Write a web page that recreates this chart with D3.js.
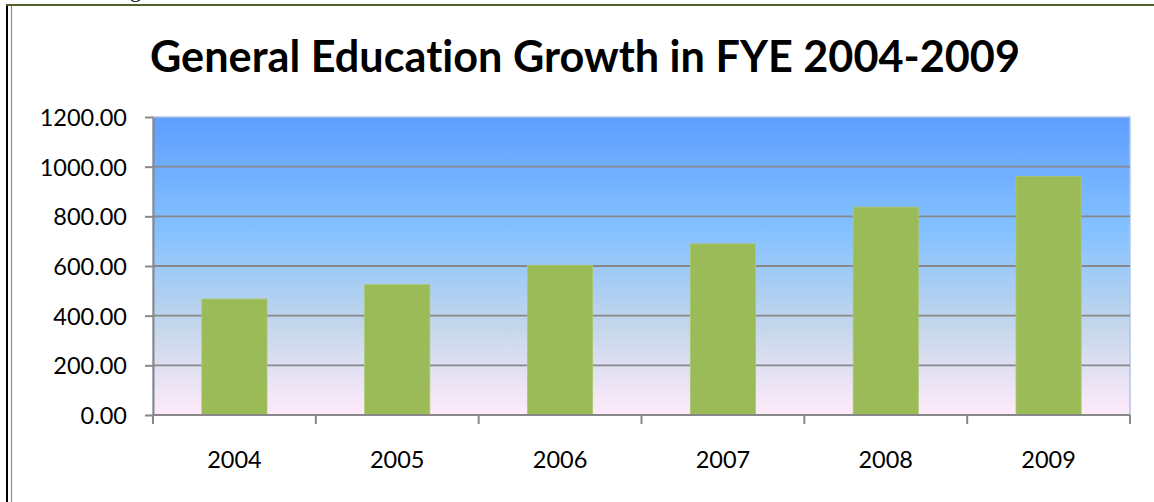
<!DOCTYPE html>
<html>
<head>
<meta charset="utf-8">
<script src="https://cdn.jsdelivr.net/npm/d3@7"></script>
<style>
  html, body { margin: 0; padding: 0; background: #ffffff; }
  svg { display: block; }
  text { font-variant-ligatures: none; font-feature-settings: "liga" 0, "clig" 0; }
</style>
</head>
<body>
<script>
const categories = ["2004", "2005", "2006", "2007", "2008", "2009"];
const values = [467, 525, 603, 689, 837, 960];
const yTicks = [0, 200, 400, 600, 800, 1000, 1200];
const titleText = "General Education Growth in FYE 2004-2009";

(function () {
const W = 1154, H = 502;
const svg = d3.select("body").append("svg").attr("width", W).attr("height", H);

// Frame lines
svg.append("line").attr("x1", 7).attr("x2", 7).attr("y1", 4).attr("y2", H)
  .attr("stroke", "#000").attr("stroke-width", 2);
svg.append("line").attr("x1", 11.5).attr("x2", 11.5).attr("y1", 6).attr("y2", H)
  .attr("stroke", "#8a9a5b").attr("stroke-width", 1.2);
svg.append("line").attr("x1", 6).attr("x2", W).attr("y1", 5).attr("y2", 5)
  .attr("stroke", "#4f6228").attr("stroke-width", 2);

// Cut-off text above chart (descender only visible, as in the reference)
svg.append("text").attr("x", 130).attr("y", -3)
  .attr("font-family", "Liberation Serif").attr("font-size", 22).attr("fill", "#000").text("g");

const pL = 153, pR = 1130, pT = 117, pB = 415;

const x = d3.scaleBand().domain(categories).range([pL, pR]).padding(0);
const y = d3.scaleLinear().domain([0, 1200]).range([pB, pT]);

// Gradient
const defs = svg.append("defs");
const grad = defs.append("linearGradient").attr("id", "bg").attr("x1", 0).attr("y1", 0).attr("x2", 0).attr("y2", 1);
[[0, "#5E9EFF"], [0.39, "#85C2FF"], [0.7, "#C4D6EB"], [1, "#FFEBFA"]].forEach(([o, c]) =>
  grad.append("stop").attr("offset", o).attr("stop-color", c));

svg.append("rect").attr("x", pL).attr("y", pT).attr("width", pR - pL).attr("height", pB - pT)
  .attr("fill", "url(#bg)").attr("stroke", "#b4c4e4").attr("stroke-width", 1.5);

// Gridlines
svg.append("g").selectAll("line").data(yTicks.filter(d => d > 0 && d < 1200)).join("line")
  .attr("x1", pL).attr("x2", pR).attr("y1", d => y(d)).attr("y2", d => y(d))
  .attr("stroke", "#888888").attr("stroke-width", 1.8);

// Bars
const bw = x.bandwidth() * 0.4;
svg.append("g").selectAll("rect").data(values).join("rect")
  .attr("x", (d, i) => x(categories[i]) + (x.bandwidth() - bw) / 2)
  .attr("y", d => y(d))
  .attr("width", bw)
  .attr("height", d => y(0) - y(d))
  .attr("fill", "#9BBB59")
  .attr("stroke", "#a9c86c").attr("stroke-width", 0.8);

// Y axis
const yAxis = d3.axisLeft(y).tickValues(yTicks).tickFormat(d3.format(".2f")).tickSizeInner(8).tickSizeOuter(0).tickPadding(18);
const gy = svg.append("g").attr("transform", `translate(${pL},0)`).call(yAxis);
gy.select(".domain").attr("stroke", "#888888").attr("stroke-width", 2);
gy.selectAll(".tick line").attr("stroke", "#888888").attr("stroke-width", 2);
gy.selectAll(".tick text").attr("font-family", "Lato").attr("font-size", 23.5).attr("fill", "#000").attr("dy", "0.36em");

// X axis line and boundary ticks
const boundaries = categories.map(c => x(c)).concat([x(categories[categories.length - 1]) + x.bandwidth()]);
svg.append("line").attr("x1", pL).attr("x2", pR).attr("y1", pB).attr("y2", pB)
  .attr("stroke", "#888888").attr("stroke-width", 2);
svg.append("g").selectAll("line").data(boundaries).join("line")
  .attr("x1", d => d).attr("x2", d => d).attr("y1", pB).attr("y2", pB + 9)
  .attr("stroke", "#888888").attr("stroke-width", 2);

const xAxis = d3.axisBottom(x).tickSize(0).tickPadding(36);
const gx = svg.append("g").attr("transform", `translate(0,${pB})`).call(xAxis);
gx.select(".domain").remove();
gx.selectAll(".tick text").attr("font-family", "Lato").attr("font-size", 23.5).attr("fill", "#000").attr("dy", "0.71em");

// Title
const t = svg.append("text").attr("x", 585).attr("y", 72).attr("text-anchor", "middle")
  .attr("font-family", "Lato").attr("font-weight", "bold").attr("font-size", 43).attr("fill", "#000")
  .style("font-variant-ligatures", "none")
  .text(titleText);
t.attr("textLength", 870).attr("lengthAdjust", "spacingAndGlyphs");
})();
</script>
</body>
</html>
